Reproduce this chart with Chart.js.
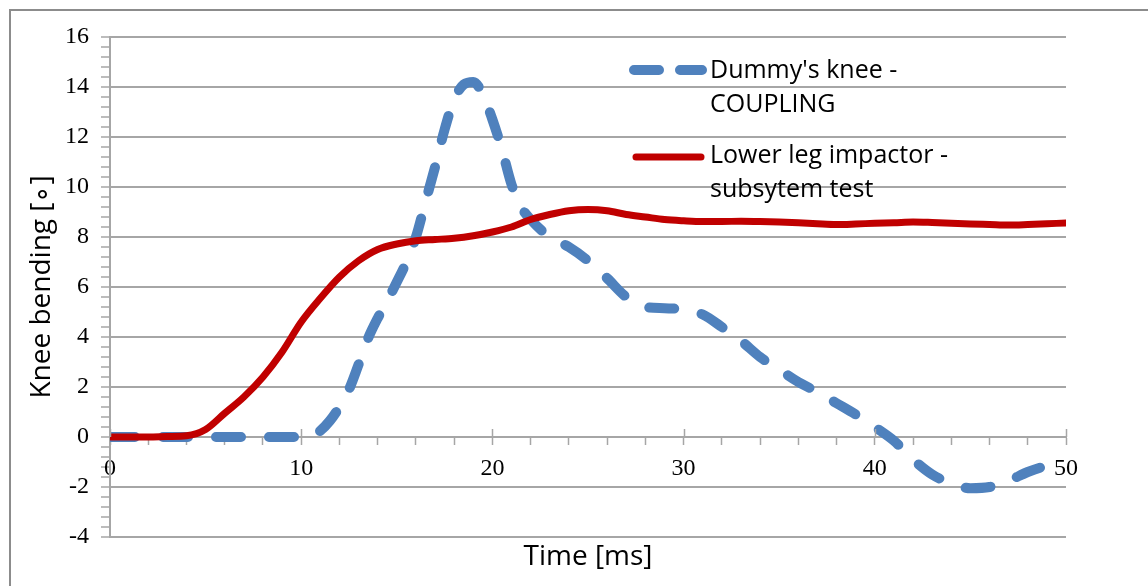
<!DOCTYPE html>
<html>
<head>
<meta charset="utf-8">
<script src="https://cdn.jsdelivr.net/npm/chart.js@4.4.1/dist/chart.umd.min.js"></script>
<style>
    html, body { margin: 0; padding: 0; background: #ffffff; }
    #caixa { position: relative; width: 1148px; height: 586px; }
</style>
</head>
<body>
<div id="caixa"><canvas id="grafico"></canvas></div>
<script>
// dados
const timeDummy = [0, 2, 4, 6, 8, 10, 10.5, 11, 11.5, 12, 12.5, 13, 13.5, 14, 14.5, 15, 15.5, 16, 16.5, 17, 17.5, 18, 18.5, 19, 19.5, 20, 20.5, 21, 21.5, 22, 23, 24, 25, 26, 27, 28, 29, 30, 31, 32, 33, 34, 35, 36, 37, 38, 39, 40, 41, 42, 43, 44, 45, 46, 47, 48, 49, 50];
const kneeDummy = [0, 0, 0, 0, 0, 0, 0, 0.25, 0.65, 1.2, 1.9, 2.9, 3.95, 4.75, 5.45, 6.2, 7.0, 8.0, 9.4, 10.8, 12.3, 13.5, 14.1, 14.2, 13.7, 12.7, 11.5, 10.1, 9.2, 8.7, 8.0, 7.6, 7.05, 6.35, 5.6, 5.2, 5.15, 5.1, 4.9, 4.4, 3.85, 3.2, 2.7, 2.2, 1.8, 1.35, 0.9, 0.4, -0.15, -0.9, -1.5, -1.85, -2.05, -2.0, -1.75, -1.4, -1.15, -1.0];

const timeImpactor = [0, 1, 2, 3, 4, 5, 6, 7, 8, 9, 10, 11, 12, 13, 14, 15, 16, 17, 18, 19, 20, 21, 22, 23, 24, 25, 26, 27, 28, 29, 30, 31, 32, 33, 34, 35, 36, 37, 38, 39, 40, 41, 42, 43, 44, 45, 46, 47, 48, 49, 50];
const kneeImpactor = [0, 0, 0, 0.02, 0.05, 0.3, 0.95, 1.6, 2.4, 3.4, 4.6, 5.55, 6.4, 7.05, 7.5, 7.72, 7.85, 7.9, 7.95, 8.05, 8.2, 8.4, 8.7, 8.9, 9.05, 9.1, 9.05, 8.9, 8.8, 8.7, 8.65, 8.62, 8.62, 8.63, 8.62, 8.6, 8.57, 8.53, 8.5, 8.52, 8.55, 8.57, 8.6, 8.58, 8.55, 8.52, 8.5, 8.48, 8.5, 8.53, 8.56];

const legendaDummy = ["Dummy's knee -", "COUPLING"];
const legendaImpactor = ["Lower leg impactor -", "subsytem test"];
const xMajores = [0, 10, 20, 30, 40, 50];

const corAzul = '#4f81bd';
const corVermelho = '#c00000';
const corGrade = '#a6a6a6';

function ehMajorY(v) {
    return Math.round(v * 10) % 20 === 0;
}

const pluginExtras = {
    id: 'extras',
    afterDraw(chart) {
        const ctx = chart.ctx;
        const x = chart.scales.x;
        const y = chart.scales.y;
        ctx.save();

        // moldura externa
        ctx.strokeStyle = '#8c8c8c';
        ctx.lineWidth = 2;
        ctx.beginPath();
        ctx.moveTo(10, 600);
        ctx.lineTo(10, 10);
        ctx.lineTo(1160, 10);
        ctx.stroke();

        // ticks maiores do eixo x para cima
        ctx.strokeStyle = corGrade;
        ctx.lineWidth = 1.5;
        const y0 = Math.round(y.getPixelForValue(0));
        xMajores.forEach((v) => {
            const px = Math.round(x.getPixelForValue(v)) + 0.5;
            ctx.beginPath();
            ctx.moveTo(px, y0 - 8);
            ctx.lineTo(px, y0);
            ctx.stroke();
        });

        // legenda
        ctx.lineCap = 'round';
        ctx.strokeStyle = corAzul;
        ctx.lineWidth = 10;
        ctx.setLineDash([25, 21]);
        ctx.beginPath();
        ctx.moveTo(634, 70);
        ctx.lineTo(702, 70);
        ctx.stroke();

        ctx.setLineDash([]);
        ctx.strokeStyle = corVermelho;
        ctx.lineWidth = 7;
        ctx.beginPath();
        ctx.moveTo(636, 157);
        ctx.lineTo(701, 157);
        ctx.stroke();

        ctx.fillStyle = '#000000';
        ctx.font = '25px "Open Sans"';
        ctx.textBaseline = 'middle';
        ctx.textAlign = 'left';
        ctx.fillText(legendaDummy[0], 710, 71);
        ctx.fillText(legendaDummy[1], 710, 105);
        ctx.fillText(legendaImpactor[0], 710, 156);
        ctx.fillText(legendaImpactor[1], 710, 190);
        ctx.restore();
    }
};

Chart.defaults.font.family = '"Open Sans"';
Chart.defaults.color = '#000000';

const grafico = document.getElementById('grafico');
new Chart(grafico, {
    type: 'line',
    data: {
        datasets: [{
            label: legendaDummy.join(' '),
            data: timeDummy.map((t, i) => ({ x: t, y: kneeDummy[i] })),
            borderColor: corAzul,
            borderWidth: 10,
            borderDash: [25, 28],
            borderCapStyle: 'round',
            borderJoinStyle: 'round',
            cubicInterpolationMode: 'monotone',
            pointRadius: 0,
            fill: false,
            order: 1
        }, {
            label: legendaImpactor.join(' '),
            data: timeImpactor.map((t, i) => ({ x: t, y: kneeImpactor[i] })),
            borderColor: corVermelho,
            borderWidth: 7,
            borderCapStyle: 'round',
            borderJoinStyle: 'round',
            cubicInterpolationMode: 'monotone',
            pointRadius: 0,
            fill: false,
            order: 0
        }]
    },
    options: {
        responsive: true,
        maintainAspectRatio: false,
        animation: false,
        layout: {
            padding: { left: 20, right: 82, top: 37, bottom: 0 }
        },
        scales: {
            x: {
                type: 'linear',
                position: { y: 0 },
                min: 0,
                max: 50,
                ticks: {
                    stepSize: 2,
                    autoSkip: false,
                    maxRotation: 0,
                    padding: 10,
                    font: { family: '"Liberation Serif"', size: 24 },
                    color: '#000000',
                    callback: (v) => (v % 10 === 0 ? v : '')
                },
                grid: {
                    drawOnChartArea: false,
                    tickLength: 7,
                    tickColor: corGrade,
                    tickWidth: 1.5
                },
                border: { color: corGrade, width: 2 }
            },
            x2: {
                type: 'linear',
                axis: 'x',
                position: 'bottom',
                min: 0,
                max: 50,
                ticks: { display: false },
                grid: { display: false },
                border: { display: false },
                title: {
                    display: true,
                    text: 'Time [ms]',
                    font: { size: 28 },
                    color: '#000000',
                    padding: { top: 0, bottom: 12 }
                },
                afterFit: (s) => { s.height = 49; }
            },
            y: {
                min: -4,
                max: 16,
                ticks: {
                    stepSize: 0.4,
                    autoSkip: false,
                    padding: 12,
                    font: { family: '"Liberation Serif"', size: 24 },
                    color: '#000000',
                    callback: (v) => (ehMajorY(v) ? Math.round(v) : '')
                },
                grid: {
                    color: (c) => (c.tick && ehMajorY(c.tick.value) ? corGrade : 'rgba(0,0,0,0)'),
                    lineWidth: 2,
                    tickLength: 9,
                    tickColor: corGrade,
                    tickWidth: 1.5
                },
                border: { color: corGrade, width: 2 },
                title: {
                    display: true,
                    text: 'Knee bending [∘]',
                    font: { size: 28 },
                    color: '#000000',
                    padding: { top: 5, bottom: 0 }
                },
                afterFit: (s) => { s.width = 90; }
            }
        },
        plugins: {
            legend: { display: false },
            tooltip: { enabled: false }
        }
    },
    plugins: [pluginExtras]
});
</script>
</body>
</html>
